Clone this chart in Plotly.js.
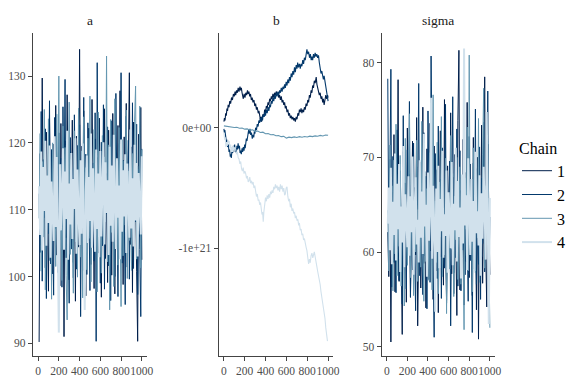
<!DOCTYPE html>
<html>
<head>
<meta charset="utf-8">
<script src="https://cdn.plot.ly/plotly-3.0.1.min.js"></script>
<style>html,body{margin:0;padding:0;background:#fff;}#chart{width:576px;height:384px;}</style>
</head>
<body>
<div id="chart"></div>
<script>
// ---------- data ----------
const chainNames = ["1", "2", "3", "4"];
const chainColors = ["#011f4b", "#03396c", "#6497b1", "#d1e1ec"];
const panelTitles = ["a", "b", "sigma"];
const xTickVals = [0, 200, 400, 600, 800, 1000];
const thinStep = 10; // one stored draw per 10 iterations

// parameter a (every 10th draw)
const a1 = [90.2,118.4,104.7,129.7,108.1,115.9,101.3,121.6,110.2,97.8,124.1,106.5,113.7,100.4,119.8,109.3,125.6,103.2,116.4,111.0,98.6,122.9,107.4,117.1,91.0,120.3,105.8,127.2,112.6,99.5,118.7,108.9,123.4,102.1,114.8,96.3,121.0,110.7,104.4,134.0,107.2,119.5,100.9,124.8,111.3,97.1,116.6,105.3,122.2,109.6,101.8,126.5,113.9,98.2,120.6,106.7,117.8,103.5,123.7,110.1,96.9,119.2,108.3,125.1,102.7,115.4,99.1,121.9,107.9,118.1,100.2,124.4,111.8,97.4,117.3,105.1,122.6,109.0,127.8,103.9,114.6,98.8,120.9,106.2,125.9,101.4,116.9,130.5,104.8,119.4,97.6,123.1,108.6,112.9,100.7,90.3,121.3,106.0,125.3,102.5];
const a2 = [112.4,103.6,124.7,99.3,117.5,108.8,122.1,96.7,115.0,106.4,126.3,101.9,119.0,110.5,97.2,123.8,107.1,114.2,100.6,121.5,105.5,117.7,98.4,125.4,111.6,129.5,102.8,118.9,107.6,96.0,120.8,104.1,116.2,99.8,124.2,109.7,101.1,119.6,106.9,122.7,94.0,115.7,108.0,126.8,103.0,118.3,100.3,123.0,110.9,97.9,121.2,105.0,117.0,102.3,124.5,90.3,132.0,107.3,114.5,99.0,120.1,104.6,125.7,98.1,116.0,109.4,122.4,101.6,118.6,96.4,123.3,106.8,113.4,100.0,127.4,108.5,97.0,119.9,104.3,130.5,102.0,117.4,110.4,95.8,124.0,107.8,120.4,99.6,115.3,105.6,126.0,101.2,118.2,108.2,122.8,97.3,116.1,104.0,94.0,119.1];
const a3 = [108.7,121.4,100.8,117.2,105.9,125.0,98.0,114.0,110.8,123.6,102.4,118.0,96.6,120.0,107.0,115.6,101.5,124.3,109.9,130.0,104.2,116.8,99.4,122.5,106.3,119.3,100.1,93.5,113.1,126.1,103.3,117.6,108.4,97.5,121.8,105.2,114.9,99.9,125.2,110.3,102.9,118.8,96.8,123.9,107.5,116.3,101.0,120.7,105.7,127.0,99.2,115.2,109.1,122.0,103.7,118.5,97.7,124.6,106.1,113.3,100.5,121.1,104.9,117.9,108.2,133.0,102.2,119.7,95.0,123.5,106.6,114.3,98.5,126.6,104.5,116.7,101.7,122.3,109.2,95.5,120.5,103.1,117.3,107.7,124.9,99.7,115.8,105.4,121.7,100.9,118.4,106.5,123.2,128.5,102.6,116.5,108.0,125.5,101.3,119.0];
const a4 = [113.5,106.2,118.7,103.9,116.4,109.8,120.3,104.6,115.1,108.0,119.6,102.8,114.2,110.7,105.3,121.0,107.4,117.9,103.1,91.6,116.8,106.9,112.3,119.2,104.0,115.7,108.6,121.8,102.5,113.9,107.8,118.5,105.6,114.6,110.1,120.7,103.4,116.0,109.2,104.7,117.4,106.4,119.9,102.2,95.0,112.8,118.1,105.0,114.9,108.3,121.4,104.3,116.2,110.4,103.7,119.0,107.1,115.4,102.9,118.8,106.0,113.2,120.1,104.8,117.1,109.5,114.4,103.2,119.4,107.6,116.6,105.2,121.2,110.9,104.1,117.7,108.8,113.6,102.6,120.5,106.7,115.9,109.0,118.3,103.5,116.9,111.5,105.8,122.0,107.2,114.7,104.5,119.7,108.4,117.0,103.0,115.5,110.0,106.3,118.0];

// parameter b (in units of 1e21), read at irregular iterations
const bScale = 1e21;
const b1Iter = [1,6,12,18,24,30,36,42,50,57,65,74,83,92,100,108,114,122,130,138,146,155,162,168,175,181,187,195,203,211,219,227,234,241,248,256,264,272,280,289,297,305,313,321,330,337,343,350,356,362,368,375,384,392,400,408,416,424,432,440,448,456,463,471,479,487,495,503,511,519,527,535,543,551,559,567,575,583,590,598,606,614,622,630,638,646,654,662,670,678,686,694,702,710,718,725,733,741,749,757,765,773,781,789,797,805,813,821,829,837,845,852,860,868,876,886,893,900,908,916,924,932,940,948,955,962,970,978,987,995,1000];
const b1Val  = [0.05,0.08,0.06,0.12,0.10,0.16,0.14,0.19,0.17,0.22,0.20,0.25,0.23,0.28,0.26,0.30,0.27,0.31,0.29,0.33,0.30,0.34,0.31,0.33,0.29,0.27,0.24,0.28,0.25,0.29,0.27,0.31,0.28,0.30,0.26,0.28,0.23,0.25,0.21,0.23,0.18,0.20,0.15,0.17,0.12,0.14,0.09,0.07,0.09,0.05,0.08,0.11,0.09,0.15,0.13,0.18,0.16,0.21,0.19,0.24,0.22,0.26,0.24,0.28,0.25,0.29,0.27,0.30,0.28,0.29,0.25,0.27,0.23,0.26,0.21,0.23,0.19,0.21,0.16,0.18,0.13,0.15,0.10,0.12,0.08,0.10,0.07,0.09,0.06,0.08,0.05,0.09,0.07,0.12,0.10,0.15,0.13,0.16,0.12,0.15,0.13,0.17,0.15,0.20,0.18,0.23,0.21,0.27,0.25,0.31,0.29,0.35,0.33,0.39,0.37,0.42,0.36,0.33,0.30,0.27,0.29,0.24,0.26,0.21,0.24,0.19,0.23,0.27,0.24,0.27,0.25];
const b2Iter = [1,5,10,15,20,25,30,36,44,50,56,62,67,72,78,85,92,98,104,110,114,120,126,132,137,143,150,156,162,168,175,181,187,194,200,205,210,216,222,228,232,238,244,251,258,265,273,280,287,293,298,305,313,321,329,336,343,350,357,364,371,378,386,393,400,408,416,424,432,440,447,455,463,471,479,487,495,503,511,519,527,535,543,551,559,567,575,583,590,598,606,614,622,630,638,646,654,662,670,678,686,694,702,708,716,725,733,741,749,757,765,773,781,789,797,805,813,822,830,838,845,852,860,868,876,884,892,900,908,916,924,932,940,948,955,962,971,978,987,995,1000];
const b2Val  = [-0.01,-0.04,-0.02,-0.08,-0.06,-0.12,-0.10,-0.16,-0.14,-0.20,-0.18,-0.24,-0.22,-0.25,-0.19,-0.21,-0.15,-0.18,-0.14,-0.20,-0.17,-0.21,-0.15,-0.18,-0.13,-0.17,-0.15,-0.21,-0.19,-0.22,-0.17,-0.20,-0.16,-0.19,-0.14,-0.17,-0.12,-0.09,-0.11,-0.05,-0.08,-0.02,-0.05,-0.01,-0.06,-0.04,-0.09,-0.06,-0.08,-0.03,-0.05,0.00,-0.02,0.03,0.01,0.06,0.04,0.08,0.05,0.09,0.06,0.11,0.09,0.13,0.10,0.15,0.12,0.17,0.14,0.19,0.17,0.22,0.20,0.25,0.22,0.27,0.24,0.29,0.26,0.30,0.27,0.31,0.29,0.33,0.30,0.34,0.32,0.36,0.33,0.38,0.35,0.40,0.37,0.42,0.39,0.45,0.42,0.47,0.44,0.50,0.46,0.52,0.49,0.54,0.50,0.53,0.49,0.53,0.51,0.56,0.53,0.58,0.56,0.62,0.65,0.61,0.63,0.58,0.61,0.56,0.59,0.56,0.61,0.58,0.62,0.59,0.61,0.58,0.60,0.54,0.50,0.45,0.47,0.42,0.40,0.43,0.38,0.32,0.27,0.24,0.22];
const b3Iter = [1,25,50,75,100,125,150,175,200,225,250,275,300,325,350,375,400,425,450,475,500,525,550,575,600,625,650,675,700,725,750,775,800,825,850,875,900,925,950,975,1000];
const b3Val  = [0.015,0.012,0.006,0.008,0.002,0.004,-0.004,-0.002,-0.012,-0.010,-0.020,-0.018,-0.030,-0.028,-0.040,-0.037,-0.050,-0.048,-0.058,-0.056,-0.066,-0.064,-0.074,-0.072,-0.086,-0.078,-0.082,-0.076,-0.081,-0.074,-0.079,-0.073,-0.077,-0.070,-0.074,-0.068,-0.071,-0.064,-0.068,-0.060,-0.063];
const b4Iter = [1,8,14,19,26,33,40,46,51,58,65,72,78,83,90,98,106,114,122,130,138,146,154,162,170,178,186,194,202,210,218,226,234,241,249,257,265,273,281,289,297,305,313,321,329,337,345,352,359,366,372,378,384,390,395,400,408,416,424,432,440,448,456,463,471,479,487,495,503,511,519,527,535,543,551,559,567,575,583,590,598,606,614,622,630,638,646,654,662,670,678,686,694,702,710,718,725,733,741,749,757,765,773,781,789,797,805,813,821,829,837,845,853,860,868,876,884,892,900,908,917,924,932,940,948,955,962,970,978,987,994];
const b4Val  = [-0.04,-0.10,-0.08,-0.16,-0.12,-0.15,-0.10,-0.13,-0.11,-0.17,-0.14,-0.20,-0.16,-0.20,-0.15,-0.19,-0.16,-0.18,-0.22,-0.20,-0.25,-0.26,-0.30,-0.28,-0.34,-0.36,-0.33,-0.38,-0.36,-0.38,-0.42,-0.40,-0.45,-0.44,-0.41,-0.46,-0.44,-0.47,-0.45,-0.50,-0.48,-0.52,-0.57,-0.55,-0.60,-0.60,-0.64,-0.62,-0.69,-0.72,-0.70,-0.78,-0.70,-0.64,-0.60,-0.58,-0.61,-0.56,-0.59,-0.55,-0.58,-0.53,-0.55,-0.52,-0.54,-0.49,-0.51,-0.47,-0.50,-0.48,-0.52,-0.49,-0.53,-0.47,-0.51,-0.48,-0.53,-0.50,-0.56,-0.55,-0.50,-0.49,-0.57,-0.61,-0.59,-0.66,-0.63,-0.69,-0.67,-0.71,-0.70,-0.75,-0.73,-0.77,-0.76,-0.81,-0.79,-0.85,-0.84,-0.89,-0.88,-0.93,-0.92,-0.97,-0.99,-1.02,-1.06,-1.13,-1.09,-1.12,-1.06,-1.04,-1.08,-1.05,-1.03,-1.07,-1.10,-1.15,-1.19,-1.22,-1.26,-1.30,-1.36,-1.40,-1.44,-1.49,-1.51,-1.58,-1.66,-1.72,-1.77];

// parameter sigma (every 10th draw)
const s1 = [62.1,57.4,69.8,50.5,66.3,59.2,72.4,55.8,64.7,60.3,78.2,56.9,67.1,61.5,51.3,70.6,58.4,65.9,54.7,73.1,60.8,68.2,55.3,63.6,71.7,57.9,66.8,59.7,74.2,52.2,64.3,69.5,56.2,62.8,75.3,58.8,67.6,54.1,70.9,61.2,57.1,73.6,60.1,66.0,55.0,71.2,63.1,58.0,68.7,53.6,65.4,72.8,59.5,62.4,56.5,76.1,61.8,54.9,69.1,64.0,58.6,74.7,57.7,67.9,55.6,70.3,62.6,53.3,73.9,81.3,56.0,66.5,60.6,71.9,54.4,68.4,59.0,75.8,63.3,57.3,69.3,61.0,55.4,72.1,58.2,65.2,53.9,70.0,50.8,67.4,59.9,73.4,56.7,64.9,78.5,60.0,54.2,71.4,62.9,57.6];
const s2 = [78.3,60.5,66.9,79.3,56.3,70.1,58.9,65.0,55.7,72.9,61.3,57.0,68.6,63.9,54.5,74.4,59.3,67.3,56.1,70.8,62.2,75.9,55.2,65.7,58.1,71.5,60.4,53.8,69.0,64.5,77.8,57.5,66.6,61.7,55.5,72.6,59.6,68.0,54.0,74.9,62.0,56.8,80.7,63.4,58.5,51.0,70.4,65.6,57.2,73.3,60.7,67.7,55.1,71.0,62.5,58.3,75.6,54.6,66.2,61.6,69.6,52.2,64.2,76.4,57.8,68.9,59.4,73.0,56.4,63.0,70.7,55.9,65.3,60.2,74.0,57.6,67.2,62.7,54.8,72.2,59.1,66.1,51.5,69.4,61.1,75.1,56.6,64.8,58.7,71.1,55.0,67.8,60.9,73.7,57.9,65.5,62.3,77.0,56.2,63.7];
const s3 = [64.4,58.0,71.3,61.4,67.0,55.9,69.7,59.8,73.5,57.5,65.8,60.6,70.2,56.4,63.8,68.1,54.3,72.0,61.9,58.6,66.4,74.6,57.3,62.0,69.2,55.4,65.1,60.0,71.8,56.9,63.5,67.5,58.4,73.8,61.0,54.8,68.5,59.0,66.7,62.9,57.0,70.5,63.2,56.0,76.6,60.9,65.4,58.9,71.6,55.6,67.4,61.6,74.3,57.4,64.6,59.7,69.9,53.5,66.0,62.1,58.2,72.3,60.3,68.3,55.3,65.9,61.3,70.0,57.1,64.1,69.0,56.6,63.6,59.3,51.8,67.8,62.4,73.2,58.0,80.8,60.4,66.5,55.8,71.0,63.0,57.8,68.8,61.5,74.1,56.8,65.6,59.5,70.3,77.3,58.3,67.0,62.6,71.7,60.1,52.0];
const s4 = [63.0,66.8,60.2,68.9,58.7,65.3,61.8,70.4,59.1,67.2,62.4,69.3,57.9,64.8,61.0,71.2,58.4,66.1,63.7,60.5,68.0,59.6,65.9,62.1,70.1,57.6,64.2,67.9,60.8,63.4,58.9,69.7,61.5,66.4,59.8,72.5,62.7,65.0,57.4,68.4,61.2,64.5,76.3,59.3,67.0,62.9,53.7,66.7,60.0,69.1,58.3,65.6,62.2,70.7,59.4,64.0,61.7,68.6,57.8,66.3,63.1,60.4,69.5,58.6,65.1,62.3,71.0,59.0,67.5,61.6,64.7,57.2,68.2,60.9,81.5,62.8,66.0,58.1,69.9,63.3,59.7,67.7,61.1,65.4,58.0,70.6,62.0,64.3,60.7,68.1,57.5,66.2,61.4,69.0,63.9,59.2,74.8,62.5,52.4,65.7];

// ---------- build ----------
const aChains = [a1, a2, a3, a4];
const sChains = [s1, s2, s3, s4];
const bIters = [b1Iter, b2Iter, b3Iter, b4Iter];
const bVals = [b1Val, b2Val, b3Val, b4Val];
const noisyWidths = [1.0, 1.0, 1.0, 2.0];

function iters(arr) { return arr.map((_, i) => (i + 1) * thinStep); }

const traces = [];
aChains.forEach((ys, c) => traces.push({
  type: "scatter", mode: "lines", x: iters(ys), y: ys, xaxis: "x", yaxis: "y",
  name: chainNames[c], legendgroup: chainNames[c], showlegend: true,
  line: {color: chainColors[c], width: noisyWidths[c]}, hoverinfo: "skip"
}));
bVals.forEach((vs, c) => traces.push({
  type: "scatter", mode: "lines", x: bIters[c], y: vs.map(v => v * bScale), xaxis: "x2", yaxis: "y2",
  name: chainNames[c], legendgroup: chainNames[c], showlegend: false,
  line: {color: chainColors[c], width: 1.1}, hoverinfo: "skip"
}));
sChains.forEach((ys, c) => traces.push({
  type: "scatter", mode: "lines", x: iters(ys), y: ys, xaxis: "x3", yaxis: "y3",
  name: chainNames[c], legendgroup: chainNames[c], showlegend: false,
  line: {color: chainColors[c], width: noisyWidths[c]}, hoverinfo: "skip"
}));

const W = 576, H = 384;
const yDom = [1 - 356 / H, 1 - 33.3 / H];
const xDoms = [[33 / W, 147 / W], [218.7 / W, 333.3 / W], [381.7 / W, 495 / W]];
const tickFont = {family: "Liberation Serif, Times New Roman, serif", size: 11.5, color: "#4d4d4d"};
function xa(dom, anchor) {
  return {domain: dom, anchor: anchor, range: [-49, 1050], tickvals: xTickVals,
    ticktext: xTickVals.map(String), tickangle: 0, showline: true, linecolor: "#444", linewidth: 1.2,
    ticks: "outside", ticklen: 4, tickcolor: "#444", showgrid: false, zeroline: false,
    tickfont: tickFont, fixedrange: true};
}
function ya(anchor, range, extra) {
  return Object.assign({domain: yDom, anchor: anchor, range: range, showline: true,
    linecolor: "#444", linewidth: 1.2, ticks: "outside", ticklen: 4, tickcolor: "#444",
    showgrid: false, zeroline: false, tickfont: tickFont, fixedrange: true}, extra || {});
}

const layout = {
  width: W, height: H, margin: {l: 0, r: 0, t: 0, b: 0},
  paper_bgcolor: "#fff", plot_bgcolor: "rgba(0,0,0,0)",
  font: {family: "Liberation Serif, Times New Roman, serif", color: "#000"},
  xaxis: xa(xDoms[0], "y"),
  yaxis: ya("x", [88.1, 136.4], {tickvals: [90, 100, 110, 120, 130]}),
  xaxis2: xa(xDoms[1], "y2"),
  yaxis2: ya("x2", [-1.893e21, 0.783e21], {tickvals: [0, -1e21], ticktext: ["0e+00", "-1e+21"]}),
  xaxis3: xa(xDoms[2], "y3"),
  yaxis3: ya("x3", [49.02, 83.1], {tickvals: [50, 60, 70, 80]}),
  showlegend: true,
  legend: {x: 517 / W, y: 1 - 133 / H, xanchor: "left", yanchor: "top",
    title: {text: "Chain", font: {size: 16, color: "#000"}},
    font: {size: 16, color: "#000"}, bgcolor: "rgba(0,0,0,0)", itemwidth: 30,
    tracegroupgap: 0},
  annotations: panelTitles.map((t, i) => ({
    text: t, xref: "paper", yref: "paper",
    x: (xDoms[i][0] + xDoms[i][1]) / 2, y: 1 - 20 / H,
    xanchor: "center", yanchor: "middle", showarrow: false,
    font: {size: 13.5, color: "#1a1a1a"}
  }))
};

Plotly.newPlot("chart", traces, layout, {staticPlot: true, displayModeBar: false});
</script>
</body>
</html>
